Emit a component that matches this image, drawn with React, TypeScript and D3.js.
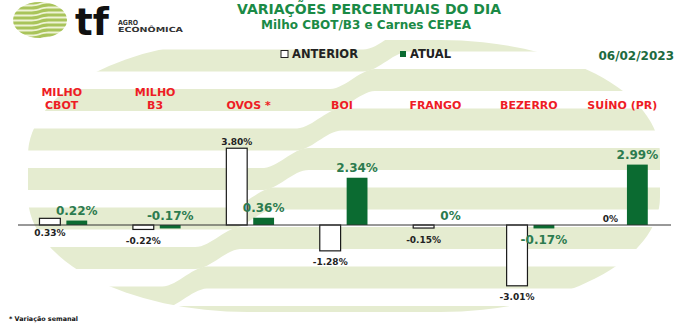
import React from 'react';
import * as d3 from 'd3';

const W = 687;
const H = 333;

const categoryLines: string[][] = [["MILHO", "CBOT"], ["MILHO", "B3"], ["OVOS *"], ["BOI"], ["FRANGO"], ["BEZERRO"], ["SUÍNO (PR)"]];
const categories = categoryLines.map((l) => l.join(" "));
const seriesNames = ["ANTERIOR", "ATUAL"];
const anterior = [0.33, -0.22, 3.8, -1.28, -0.15, -3.01, 0];
const atual = [0.22, -0.17, 0.36, 2.34, 0, -0.17, 2.99];
const title = "VARIAÇÕES PERCENTUAIS DO DIA";
const subtitle = "Milho CBOT/B3 e Carnes CEPEA";
const dateLabel = "06/02/2023";
const footnote = "* Variação semanal";

const FONT = "'DejaVu Sans', Verdana, sans-serif";
const BAR_GREEN = "#0b6b31";
const LABEL_GREEN = "#2c7b4f";
const TITLE_GREEN = "#1a8a46";
const RED = "#ee1c25";
const PALE = "#e5ecd0";

const fmt = (v: number) => (v === 0 ? "0%" : v.toFixed(2) + "%");
const smooth = (t: number) => {
  const c = Math.max(0, Math.min(1, t));
  return c * c * (3 - 2 * c);
};

export default function App() {
  const x0 = d3.scaleBand<string>().domain(categories).range([18, 672]).paddingInner(0).paddingOuter(0);
  const x1 = d3.scaleBand<string>().domain(seriesNames).range([0, x0.bandwidth()]).paddingInner(0.225).paddingOuter(0.85).align(0.47);
  const y = d3.scaleLinear().domain([-4, 4.5]).range([225 + 4 * 20.2, 225 - 4.5 * 20.2]);
  const y0 = y(0);

  // watermark bands
  const xs = d3.range(0, W + 3, 3);
  const bandLevels = d3.range(21, 345, 39.5);
  const area = d3.area<number>();
  const bands = bandLevels.map((cL) => {
    const xc = 395 - (cL - 50) * 0.85;
    const yc = (x: number) => cL - 20 * smooth((x - xc) / 46 + 0.5);
    return area.x((d) => d).y0((d) => yc(d) - 11).y1((d) => yc(d) + 11)(xs) as string;
  });

  // logo bands
  const lxs = d3.range(10, 72, 1);
  const logoBands = d3.range(-2, 44, 5).map((c) => {
    const yc = (x: number) => c - 3 * smooth((x - 40) / 16 + 0.5);
    return area.x((d) => d).y0((d) => yc(d) - 1.6).y1((d) => yc(d) + 1.6)(lxs) as string;
  });

  // labels with simple collision avoidance
  const charW = (s: string, fs: number) => s.length * fs * 0.62;
  type Lab = { x: number; y: number; text: string };
  const antLabs: Lab[] = [];
  const atuLabs: Lab[] = [];
  categories.forEach((c, i) => {
    const va = anterior[i];
    const vt = atual[i];
    const xa = (x0(c) as number) + (x1("ANTERIOR") as number) + x1.bandwidth() / 2;
    const xt = (x0(c) as number) + (x1("ATUAL") as number) + x1.bandwidth() / 2;
    const ta = fmt(va);
    const tt = fmt(vt);
    let ya = va >= 0 ? y(va) - 3 : y(va) + 14.5;
    let yt = vt >= 0 ? y(vt) - 5.5 : y(vt) + 16;
    const wa = charW(ta, 9);
    const wt = charW(tt, 12);
    const overlapX = Math.abs(xa - xt) < (wa + wt) / 2;
    if (vt < 0 && va < 0 && overlapX && Math.abs(ya - yt) < 11) {
      yt = y0 - 5.5;
    }
    if (va > 0 && vt >= 0 && overlapX && Math.abs(ya - yt) < 11) {
      ya = y0 + 11;
    }
    antLabs.push({ x: xa, y: ya, text: ta });
    atuLabs.push({ x: xt, y: yt, text: tt });
  });

  return (
    <svg width={W} height={H} style={{ position: "absolute", left: 0, top: 0, background: "#fff" }} fontFamily={FONT}>
      <defs>
        <clipPath id="wm">
          <rect x={28} y={40} width={632} height={272} rx={220} ry={115} />
        </clipPath>
        <clipPath id="logo">
          <ellipse cx={40} cy={20} rx={27} ry={18} />
        </clipPath>
      </defs>
      <rect x={0} y={0} width={W} height={H} fill="#fff" />
      <g clipPath="url(#wm)">
        {bands.map((d, i) => (
          <path key={i} d={d} fill={PALE} />
        ))}
      </g>

      {/* logo */}
      <g clipPath="url(#logo)">
        <ellipse cx={40} cy={20} rx={27} ry={18} fill="#eef3d6" />
        {logoBands.map((d, i) => (
          <path key={i} d={d} fill="#a9c45b" />
        ))}
      </g>
      <text x={75} y={35} fontSize={37} fontWeight={900} fill="#111">tf</text>
      <text x={118} y={25} fontSize={7} fontWeight="bold" fill="#333" textLength={20} lengthAdjust="spacingAndGlyphs">AGRO</text>
      <text x={118} y={32} fontSize={7} fontWeight="bold" fill="#333" textLength={65} lengthAdjust="spacingAndGlyphs">ECONÔMICA</text>

      {/* titles */}
      <text x={369} y={13.5} textAnchor="middle" fontSize={14} fontWeight="bold" fill={TITLE_GREEN}>{title}</text>
      <text x={366} y={28.5} textAnchor="middle" fontSize={12} fontWeight="bold" fill={TITLE_GREEN}>{subtitle}</text>

      {/* legend */}
      <rect x={281} y={50.5} width={7} height={7} fill="#fff" stroke="#222" strokeWidth={1} />
      <text x={292} y={58} fontSize={11.5} fontWeight="bold" fill="#222">{seriesNames[0]}</text>
      <rect x={400} y={51} width={6} height={6} fill={BAR_GREEN} />
      <text x={410} y={58} fontSize={11.5} fontWeight="bold" fill="#222">{seriesNames[1]}</text>
      <text x={674} y={59.5} textAnchor="end" fontSize={12} fontWeight="bold" fill="#1d6b3e">{dateLabel}</text>

      {/* category labels */}
      {categoryLines.map((lines, i) => {
        const cx = (x0(categories[i]) as number) + x0.bandwidth() / 2 - 3;
        return (
          <text key={i} textAnchor="middle" fontSize={11} fontWeight="bold" fill={RED}>
            {lines.map((l, j) => (
              <tspan key={j} x={cx} y={109 - (lines.length - 1 - j) * 13}>{l}</tspan>
            ))}
          </text>
        );
      })}

      {/* bars */}
      {categories.map((c, i) => {
        const va = anterior[i];
        const vt = atual[i];
        const bx = x0(c) as number;
        return (
          <g key={c}>
            {va !== 0 && (
              <rect x={bx + (x1("ANTERIOR") as number)} y={Math.min(y(va), y0)} width={x1.bandwidth()} height={Math.abs(y(va) - y0)} fill="#fff" stroke="#1a1a1a" strokeWidth={1.2} />
            )}
            {vt !== 0 && (
              <rect x={bx + (x1("ATUAL") as number)} y={Math.min(y(vt), y0)} width={x1.bandwidth()} height={Math.abs(y(vt) - y0)} fill={BAR_GREEN} />
            )}
          </g>
        );
      })}

      {/* axis */}
      <line x1={18} x2={671} y1={y0} y2={y0} stroke="#333" strokeWidth={1} />

      {/* value labels */}
      {antLabs.map((l, i) => (
        <text key={"a" + i} x={l.x} y={l.y} textAnchor="middle" fontSize={9} fontWeight="bold" fill="#222">{l.text}</text>
      ))}
      {atuLabs.map((l, i) => (
        <text key={"t" + i} x={l.x} y={l.y} textAnchor="middle" fontSize={12} fontWeight="bold" fill={LABEL_GREEN}>{l.text}</text>
      ))}

      <text x={9} y={320.5} fontSize={6.4} fontWeight="bold" fill="#111">{footnote}</text>
    </svg>
  );
}
